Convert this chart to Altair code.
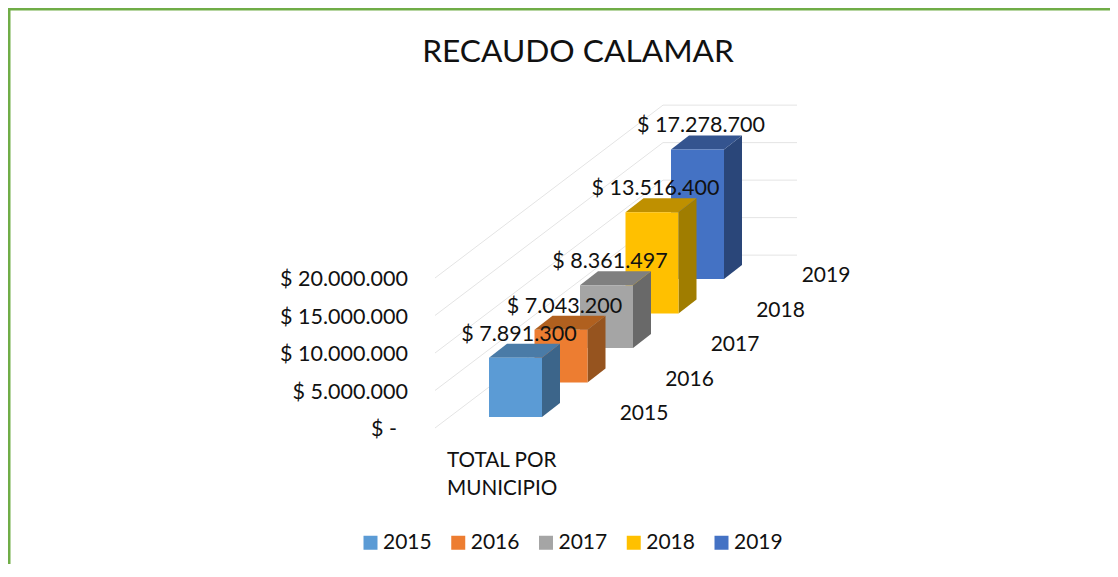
import altair as alt
import pandas as pd

years = ["2015", "2016", "2017", "2018", "2019"]
values = [7891300, 7043200, 8361497, 13516400, 17278700]
front_colors = ["#5B9BD5", "#ED7D31", "#A5A5A5", "#FFC000", "#4472C4"]
top_colors = ["#4A7BA7", "#B0601F", "#7F7F7F", "#BF9000", "#34548F"]
side_colors = ["#3C658A", "#96541F", "#696969", "#A07D00", "#2A4679"]
grid_values = [0, 5000000, 10000000, 15000000, 20000000]
grid_labels = ["$ -", "$ 5.000.000", "$ 10.000.000", "$ 15.000.000", "$ 20.000.000"]
category_label = "TOTAL POR\nMUNICIPIO"
title_text = "RECAUDO CALAMAR"

# oblique projection of the 3D plot, in plot-scale units
W, H = 1102, 556
PX = 1 / 7.5e-6           # pesos per screen pixel on the value scale
Y_TOP = 420 * PX
Y_BOTTOM = -(H - 420) * PX
STEP_X, STEP_Y = 45.5, 34.5 * PX
BAR_X0, BAR_W, BAR_BASE = 481.0, 53.0, 11 * PX
DEPTH_X, DEPTH_Y = 18.0, 14 * PX
WALL_X0, WALL_X1, WALL_X2 = 427.0, 655.0, 789.0
WALL_RISE = (WALL_X1 - WALL_X0) * 34.5 / 45.5 * PX
AXIS_X, AXIS_ZERO_X = 400.0, 389.0

x_scale = alt.Scale(domain=[0, W], range=[0, W])
y_scale = alt.Scale(domain=[Y_BOTTOM, Y_TOP], range=[H, 0])
color_scale = alt.Scale(domain=years, range=front_colors)
X = lambda f: alt.X(f, type="quantitative", scale=x_scale, axis=None)
Y = lambda f: alt.Y(f, type="quantitative", scale=y_scale, axis=None)

# value labels on the y scale, at the front of the wall
axis_df = pd.DataFrame({
    "x": [AXIS_ZERO_X if g == 0 else AXIS_X for g in grid_values],
    "y": grid_values,
    "t": grid_labels,
})
axis_labels = alt.Chart(axis_df).mark_text(
    font="Lato", fontSize=21.5, color="#111111", align="right", baseline="middle", dy=2
).encode(x=X("x"), y=Y("y"), text="t:N")

# back wall grid
wall_rows = []
for g in grid_values:
    wall_rows += [
        {"g": g, "x": WALL_X0, "y": g},
        {"g": g, "x": WALL_X1, "y": g + WALL_RISE},
        {"g": g, "x": WALL_X2, "y": g + WALL_RISE},
    ]
grid = alt.Chart(pd.DataFrame(wall_rows)).mark_line(
    color="#E4E4E4", strokeWidth=1
).encode(x=X("x"), y=Y("y"), detail="g:N")

layers = [axis_labels, grid]
# bars from back to front, so nearer bars cover farther ones
for i in reversed(range(len(years))):
    v = values[i]
    left = BAR_X0 + i * STEP_X
    right = left + BAR_W
    base = BAR_BASE + i * STEP_Y
    top = base + v
    front = pd.DataFrame([{"year": years[i], "x": left, "x2": right, "y": base, "y2": top}])
    side = pd.DataFrame([
        {"x": right, "y": base, "y2": top},
        {"x": right + DEPTH_X, "y": base + DEPTH_Y, "y2": top + DEPTH_Y},
    ])
    cap = pd.DataFrame([
        {"x": left, "y": top, "y2": top},
        {"x": left + DEPTH_X, "y": top, "y2": top + DEPTH_Y},
        {"x": right, "y": top, "y2": top + DEPTH_Y},
        {"x": right + DEPTH_X, "y": top + DEPTH_Y, "y2": top + DEPTH_Y},
    ])
    layers.append(alt.Chart(side).mark_area(color=side_colors[i]).encode(
        x=X("x"), y=Y("y"), y2="y2"))
    layers.append(alt.Chart(cap).mark_area(color=top_colors[i]).encode(
        x=X("x"), y=Y("y"), y2="y2"))
    layers.append(alt.Chart(front).mark_rect().encode(
        x=X("x"), x2="x2", y=Y("y"), y2="y2",
        color=alt.Color(
            "year:N",
            scale=color_scale,
            legend=alt.Legend(
                title=None,
                orient="none",
                legendX=352,
                legendY=524,
                direction="horizontal",
                columns=5,
                symbolType="square",
                symbolSize=196,
                symbolStrokeWidth=0,
                symbolOpacity=1,
                labelFont="Lato",
                labelFontSize=21,
                labelColor="#111111",
                symbolOffset=0,
                labelOffset=2,
                columnPadding=15.75,
            ),
        ),
    ))

# value labels above each bar
label_df = pd.DataFrame({
    "x": [BAR_X0 + i * STEP_X + 30 for i in range(5)],
    "y": [BAR_BASE + i * STEP_Y + values[i] for i in range(5)],
    "t": ["$ " + f"{v:,d}".replace(",", ".") for v in values],
})
value_labels = alt.Chart(label_df).mark_text(
    font="Lato", fontSize=21.5, color="#111111", dy=-23
).encode(x=X("x"), y=Y("y"), text="t:N")

# depth axis labels
depth_df = pd.DataFrame({
    "x": [636 + i * STEP_X for i in range(5)],
    "y": [14 * PX + i * STEP_Y for i in range(5)],
    "t": years,
})
depth_labels = alt.Chart(depth_df).mark_text(
    font="Lato", fontSize=21, color="#111111"
).encode(x=X("x"), y=Y("y"), text="t:N")

category = alt.Chart(pd.DataFrame({"x": [439.0], "y": [0.0], "t": [category_label]})).mark_text(
    font="Lato", fontSize=20.7, color="#111111", align="left", baseline="middle",
    lineBreak="\n", lineHeight=28, dy=33
).encode(x=X("x"), y=Y("y"), text="t:N")

# outer frame
frame_left = alt.Chart(pd.DataFrame({"a": [0]})).mark_rule(color="#70AD47", strokeWidth=3).encode(
    x=alt.value(1), y=alt.value(0), y2=alt.value(H))
frame_top = alt.Chart(pd.DataFrame({"a": [0]})).mark_rule(color="#70AD47", strokeWidth=3).encode(
    y=alt.value(1), x=alt.value(0), x2=alt.value(W))

layers += [value_labels, depth_labels, category, frame_left, frame_top]

chart = alt.layer(*layers).properties(
    width=W,
    height=H,
    padding=0,
    autosize=alt.AutoSizeParams(type="none"),
    title=alt.TitleParams(
        title_text, font="Lato", fontSize=31.7, fontWeight="normal", color="#111111",
        anchor="middle", dx=19, offset=-62,
    ),
).resolve_scale(x="shared", y="shared").configure_view(stroke=None)

chart.save("out.html", embed_options={"renderer": "svg", "actions": False})
